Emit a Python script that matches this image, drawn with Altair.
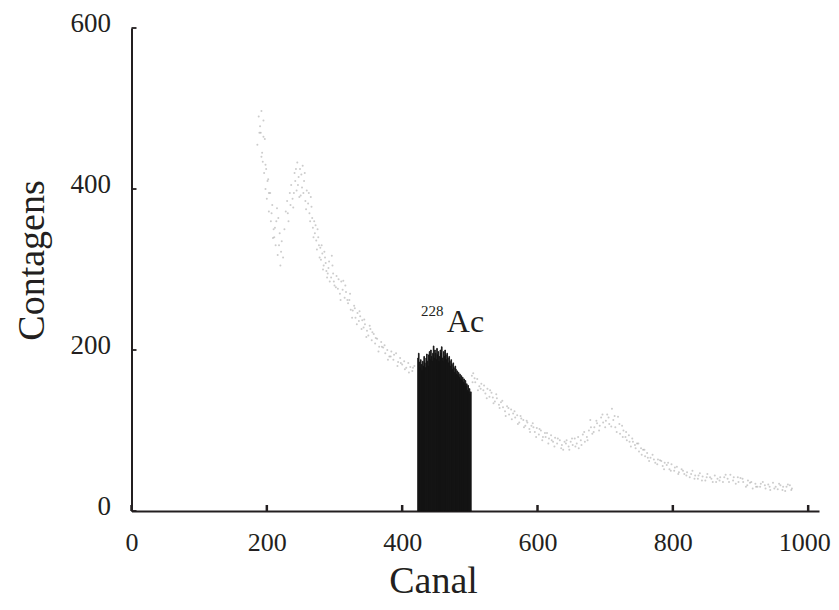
import altair as alt
import pandas as pd

# ---- data ----
scatter_canal = [
    186, 188, 190, 191, 192, 193, 194, 195, 196, 197, 198, 199, 200, 201, 202, 203, 205, 206, 208, 209,
    210, 212, 213, 215, 216, 217, 219, 220, 222, 224, 226,
    228, 230, 232, 234, 236, 238, 239, 241, 242, 244, 245, 247, 249, 250, 252, 253, 255, 257, 259, 261,
    263, 265, 267, 268, 270, 271, 273, 275, 277, 279, 280, 282, 284, 286, 288, 289, 291, 293, 296, 298,
    300, 303, 305, 308, 310, 313, 315, 317, 320, 322, 324, 327, 329, 331, 334, 336, 338, 341, 343, 345,
    348, 350, 353, 355, 358, 360, 363, 366, 369, 372, 375, 378, 381, 384, 387, 391, 394, 397, 400, 403,
    406, 409, 412, 415, 418,
    503, 505, 508, 511, 514, 517, 520, 523, 526, 529, 532, 534, 537, 540, 543, 546, 549, 552, 555, 558,
    561, 564, 567, 570, 573, 576, 579, 582, 585, 588, 591, 593, 596, 599, 602, 605, 608, 611, 614, 617,
    620, 623, 626, 629, 633, 636, 638, 640,
    643, 646, 649, 652, 655, 658, 661, 664, 667, 670, 673, 676, 678, 681, 684, 688, 691, 694, 697, 700,
    703, 706, 710, 712, 715, 719, 722, 725, 727, 730, 732, 735, 738, 741, 744, 747, 750, 753, 756, 759,
    762, 765, 767,
    770, 774, 778, 781, 785, 788, 791, 795, 798, 802, 806, 809, 813, 817, 821, 825, 829, 833, 837, 840,
    844, 848, 851, 855, 859, 862, 866, 870, 874, 878, 881, 885, 889, 893, 896, 900, 904, 908, 911, 914,
    918, 922, 925, 929, 933, 937, 941, 944, 948, 952, 955, 959, 963, 966, 970, 973, 976,
]
scatter_counts = [
    455, 490, 478, 470, 497, 445, 434, 465, 420, 462, 400, 425, 388, 410, 412, 372, 395, 360, 380, 339,
    350, 352, 330, 376, 318, 364, 345, 305, 335, 315, 350,
    372, 385, 360, 395, 405, 388, 377, 420, 410, 398, 433, 415, 425, 392, 402, 429, 410, 385, 398, 382,
    370, 390, 364, 352, 360, 345, 336, 350, 330, 327, 312, 320, 305, 315, 298, 290, 302, 285, 317, 295,
    280, 292, 276, 270, 285, 286, 265, 272, 258, 262, 250, 249, 255, 240, 246, 236, 242, 237, 228, 232,
    224, 218, 226, 212, 220, 208, 214, 204, 210, 203, 196, 200, 192, 198, 188, 196, 185, 190, 182, 186,
    178, 184, 179, 174, 180,
    168, 171, 160, 164, 155, 158, 150, 146, 152, 142, 147, 141, 136, 140, 132, 135, 129, 124, 130, 120,
    126, 121, 116, 119, 110, 115, 113, 106, 110, 102, 106, 109, 98, 103, 95, 100, 92, 97, 97, 90,
    94, 86, 91, 84, 88, 82, 76, 86,
    88, 80, 86, 82, 90, 84, 78, 88, 95, 86, 92, 100, 113, 96, 104, 109, 100, 116, 110, 104,
    120, 108, 127, 113, 104, 117, 96, 106, 100, 92, 88, 94, 80, 86, 82, 84, 74, 78, 76, 68,
    72, 62, 66,
    70, 60, 64, 63, 56, 60, 57, 52, 58, 50, 55, 48, 52, 46, 48, 42, 50, 44, 40, 47,
    43, 38, 46, 42, 36, 44, 40, 42, 36, 45, 40, 45, 38, 34, 42, 41, 36, 30, 38, 35,
    28, 34, 30, 30, 36, 28, 33, 26, 35, 30, 27, 32, 30, 25, 33, 32, 28,
]

# second, more spread-out group of faint points
scatter_canal_b = [
    189, 192, 195, 198, 203, 207, 211, 214, 218, 221,
    231, 235, 240, 243, 246, 248, 251, 254, 256, 258, 262, 264, 266, 269, 272, 274, 276, 278, 281, 283,
    285, 287, 290, 292, 295, 297, 299,
    302, 306, 309, 312, 316, 319, 323, 326, 330, 333, 337, 340, 344, 347, 352, 356, 361, 365, 370, 374,
    379, 383, 388, 393, 398, 404, 410, 416,
    504, 507, 512, 516, 521, 525, 530, 535, 539, 544, 548, 553, 557, 562, 566, 571, 575, 580, 584, 589,
    594, 598, 603, 607, 612, 616, 621, 625, 630, 635,
    642, 647, 651, 656, 660, 665, 669, 674, 679, 683, 687, 692, 696, 701, 705, 709, 714, 717, 721, 726,
    731, 736, 740, 745, 749, 754, 758, 763,
    772, 777, 783, 787, 793, 797, 803, 808, 815, 820, 827, 832, 838, 843, 850, 857, 864, 869, 876, 883,
    890, 897, 903, 910, 916, 923, 930, 936, 943, 950, 957, 962, 968, 975,
]
scatter_counts_b = [
    470, 440, 485, 430, 395, 370, 340, 360, 330, 322,
    370, 380, 395, 425, 405, 390, 418, 395, 420, 375, 395, 360, 378, 340, 355, 325, 340, 315, 330, 300,
    322, 308, 295, 310, 290, 305, 285,
    278, 288, 262, 275, 280, 262, 270, 240, 252, 232, 248, 226, 238, 216, 230, 222, 215, 198, 204, 206,
    188, 192, 194, 180, 184, 176, 172, 178,
    160, 165, 150, 152, 156, 140, 150, 134, 145, 128, 137, 118, 128, 114, 124, 108, 118, 104, 112, 98,
    104, 92, 102, 88, 92, 84, 88, 80, 90, 78,
    84, 76, 90, 80, 92, 82, 98, 88, 104, 98, 112, 106, 120, 112, 116, 105, 118, 98, 108, 92,
    98, 86, 90, 78, 84, 70, 76, 66,
    64, 58, 62, 52, 60, 50, 54, 46, 50, 44, 46, 40, 44, 38, 42, 40, 36, 38, 42, 36,
    42, 36, 40, 32, 36, 30, 34, 32, 30, 28, 34, 26, 30, 26,
]

peak_canal = list(range(423, 502))
peak_counts = [
    190, 196, 185, 178, 188, 182, 175, 186, 180, 192, 184, 178, 190, 195, 186, 180, 194, 198, 188, 200,
    192, 186, 196, 205, 190, 200, 196, 188, 202, 194, 198, 186, 192, 200, 196, 204, 190, 186, 198, 192,
    200, 194, 188, 196, 190, 184, 192, 186, 180, 188, 182, 176, 184, 178, 172, 180, 176, 170, 174, 168,
    172, 166, 170, 164, 168, 162, 166, 160, 164, 158, 162, 155, 158, 150, 156, 148, 152, 145, 148,
]

x_ticks = [0, 200, 400, 600, 800, 1000]
y_ticks = [0, 200, 400, 600]

label_mass = ["228"]
label_element = ["Ac"]

# ---- layout ----
W, H = 687.5, 483
FONT = "Liberation Serif"
INK = "#231f20"

xscale = alt.Scale(domain=[0, 1016], nice=False, zero=False)
yscale = alt.Scale(domain=[0, 600], nice=False)

pts = pd.DataFrame({
    "canal": scatter_canal + scatter_canal_b,
    "contagens": scatter_counts + scatter_counts_b,
})
bars = pd.DataFrame({"canal": peak_canal, "contagens": peak_counts})
bars["canal2"] = bars["canal"] + 1
xt = pd.DataFrame({"v": x_ticks})
yt = pd.DataFrame({"v": y_ticks})

x_axis = alt.Axis(
    values=x_ticks, format="d", ticks=False, grid=False, labelFont=FONT, labelFontSize=26,
    labelColor=INK, labelPadding=18, domainColor=INK, domainWidth=2,
    labelOffset=alt.condition("datum.value == 1000", alt.value(-4), alt.value(0)),
    title="Canal", titleFont=FONT, titleFontSize=38, titleFontWeight="normal",
    titleColor=INK, titleX=301.5, titleY=81, titleAlign="center",
    titleBaseline="alphabetic", labelFlush=False,
)
y_axis = alt.Axis(
    values=y_ticks, format="d", ticks=False, grid=False, labelFont=FONT, labelFontSize=27,
    labelColor=INK, labelPadding=21, labelOffset=-5, domainColor=INK, domainWidth=2,
    title="Contagens", titleFont=FONT, titleFontSize=38, titleFontWeight="normal",
    titleColor=INK, titleX=-88.5, titleY=232, titleAlign="center",
    titleBaseline="alphabetic", titleAngle=270,
)

scatter = alt.Chart(pts).mark_circle(size=4, color="#808080", opacity=0.4).encode(
    x=alt.X("canal:Q", scale=xscale, axis=x_axis),
    y=alt.Y("contagens:Q", scale=yscale, axis=y_axis),
)

peak = alt.Chart(bars).mark_bar(color="#141414", stroke="#141414", strokeWidth=0.9).encode(
    x=alt.X("canal:Q", scale=xscale),
    x2="canal2:Q",
    y=alt.Y("contagens:Q", scale=yscale),
    y2=alt.datum(0),
)

xticks = alt.Chart(xt).mark_rule(color=INK, strokeWidth=2.5).encode(
    x=alt.X("v:Q", scale=xscale),
    y=alt.value(H),
    y2=alt.value(H - 6),
)
yticks = alt.Chart(yt).mark_rule(color=INK, strokeWidth=1.8).encode(
    y=alt.Y("v:Q", scale=yscale),
    x=alt.value(0),
    x2=alt.value(5),
)

lab_df = pd.DataFrame({"mass": label_mass, "el": label_element})
sup = alt.Chart(lab_df).mark_text(
    font=FONT, fontSize=15, color=INK, align="left", baseline="alphabetic"
).encode(x=alt.datum(428), y=alt.datum(242), text="mass:N")
el = alt.Chart(lab_df).mark_text(
    font=FONT, fontSize=32, color=INK, align="left", baseline="alphabetic"
).encode(x=alt.datum(466), y=alt.datum(222), text="el:N")

chart = alt.layer(scatter, peak, xticks, yticks, sup, el).properties(
    width=W, height=H,
    autosize=alt.AutoSizeParams(type="none"),
    padding={"left": 123.5, "top": 20, "right": 12, "bottom": 91},
    background="white",
).configure_view(stroke=None)

chart.save("out.html", embed_options={"renderer": "svg", "actions": False})
